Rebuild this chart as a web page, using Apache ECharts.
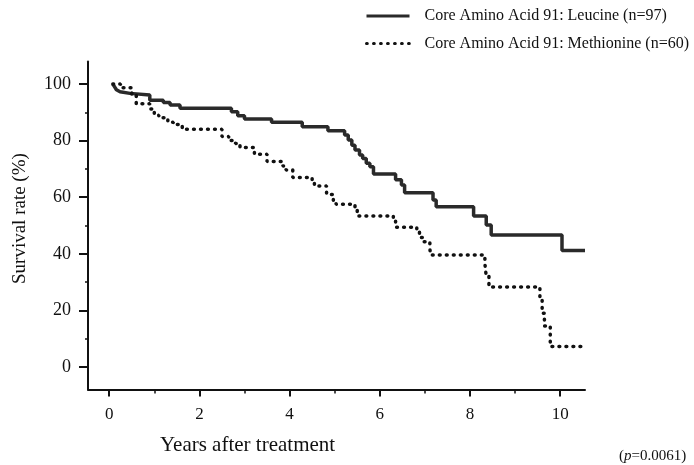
<!DOCTYPE html>
<html><head><meta charset="utf-8">
<script src="https://cdn.jsdelivr.net/npm/echarts@6/dist/echarts.min.js"></script>
<style>html,body{margin:0;padding:0;background:#fff}#c{width:694px;height:465px}</style>
</head><body><div id="c"></div>
<script>
const seriesNames = ['Core Amino Acid 91: Leucine (n=97)', 'Core Amino Acid 91: Methionine (n=60)'];
const xMajorTicks = [0, 2, 4, 6, 8, 10];
const xMinorTicks = [1, 3, 5, 7, 9];
const yMajorTicks = [0, 20, 40, 60, 80, 100];
const yMinorTicks = [10, 30, 50, 70, 90];
// [years, survival %]
const leucine = [[0.08,100],[0.12,99],[0.16,98],[0.2,97.3],[0.24,96.7],[0.46,96.1],[0.9,94.3],[1.2,93.5],[1.35,92.6],[1.57,91.4],[2.71,90.2],[2.85,88.8],[3.0,87.6],[3.6,86.5],[4.28,84.9],[4.85,83.5],[5.22,82],[5.3,80.2],[5.38,78.4],[5.45,76.7],[5.55,74.9],[5.62,73.7],[5.7,72],[5.78,70.8],[5.86,68.2],[6.35,66.2],[6.48,64.3],[6.55,61.6],[7.18,59],[7.25,56.6],[8.08,53.4],[8.36,50.2],[8.47,46.6],[10.04,41.2],[10.55,41.2]];
const methionine = [[0.08,100],[0.25,98.7],[0.5,96.5],[0.6,93],[0.9,91.2],[1.0,89],[1.1,88.1],[1.3,86.5],[1.42,85.7],[1.62,84],[2.5,81.5],[2.65,80],[2.8,79],[2.9,77.6],[3.22,75.2],[3.5,72.6],[3.85,71],[3.92,69.6],[4.07,67],[4.5,65.5],[4.55,64],[4.82,61],[4.97,58.5],[5.03,57.5],[5.45,55.5],[5.5,53.4],[6.3,51.5],[6.35,49.4],[6.82,48.4],[6.88,45.8],[6.97,44.3],[7.11,42.5],[7.12,39.6],[8.33,36.6],[8.36,32],[8.42,28.3],[9.55,24],[9.6,19],[9.65,14.5],[9.78,7.2],[10.55,7.2]];

const FONT = '"Liberation Serif", "Times New Roman", serif';
const chart = echarts.init(document.getElementById('c'), null, {renderer: 'canvas'});
const gridPos = {left: 88, top: 61.4, right: 109, bottom: 75.4};
chart.setOption({
  animation: false,
  backgroundColor: '#fff',
  grid: gridPos,
  legend: {
    orient: 'vertical', left: 365, top: 8, padding: 0,
    itemWidth: 43, itemHeight: 14, itemGap: 11.5,
    itemStyle: {opacity: 0},
    lineStyle: {width: 3},
    textStyle: {fontFamily: FONT, fontSize: 16, color: '#111', padding: [0, 0, 0, 10]},
    data: seriesNames
  },
  xAxis: [{
    type: 'value', min: -0.47, max: 10.55, position: 'bottom',
    axisLine: {show: true, onZero: false, lineStyle: {color: '#111', width: 2}},
    axisTick: {show: true, customValues: xMajorTicks, length: 7, inside: false, lineStyle: {color: '#111', width: 2}},
    axisLabel: {customValues: xMajorTicks, margin: 16, fontFamily: FONT, fontSize: 17, color: '#111'},
    splitLine: {show: false}
  }, {
    type: 'value', min: -0.47, max: 10.55, position: 'bottom',
    axisLine: {show: false, onZero: false},
    axisTick: {show: true, customValues: xMinorTicks, length: 4, lineStyle: {color: '#111', width: 1.5}},
    axisLabel: {show: false}, splitLine: {show: false}
  }],
  yAxis: [{
    type: 'value', min: -8, max: 108, position: 'left',
    axisLine: {show: true, onZero: false, lineStyle: {color: '#111', width: 2}},
    axisTick: {show: true, customValues: yMajorTicks, length: 9, lineStyle: {color: '#111', width: 2}},
    axisLabel: {customValues: yMajorTicks, margin: 17, fontFamily: FONT, fontSize: 18, color: '#111'},
    splitLine: {show: false}
  }, {
    type: 'value', min: -8, max: 108, position: 'left',
    axisLine: {show: false, onZero: false},
    axisTick: {show: true, customValues: yMinorTicks, length: 3, lineStyle: {color: '#111', width: 1.5}},
    axisLabel: {show: false}, splitLine: {show: false}
  }],
  series: [{
    name: seriesNames[0], type: 'line', step: 'end', symbol: 'none',
    xAxisIndex: 0, yAxisIndex: 0,
    lineStyle: {color: '#2a2a2a', width: 3.5},
    itemStyle: {color: '#2a2a2a'},
    data: leucine
  }, {
    name: seriesNames[1], type: 'line', step: 'end', symbol: 'none',
    xAxisIndex: 0, yAxisIndex: 0,
    lineStyle: {color: '#111', width: 3.5, type: [0.8, 6.2], cap: 'round'},
    itemStyle: {color: '#111'},
    data: methionine
  }],
  graphic: [{
    type: 'text', left: 160, top: 435,
    style: {text: 'Years after treatment', font: '21px ' + FONT, fill: '#111'}
  }, {
    type: 'text', x: 11, y: 284, rotation: Math.PI / 2,
    style: {text: 'Survival rate (%)', font: '19px ' + FONT, fill: '#111'}
  }, {
    type: 'text', left: 619, top: 449,
    style: {rich: {i: {fontStyle: 'italic', fontFamily: FONT, fontSize: 15, fill: '#111'}, n: {fontFamily: FONT, fontSize: 15, fill: '#111'}},
      text: '{n|(}{i|p}{n|=0.0061)}'}
  }]
});
</script></body></html>
